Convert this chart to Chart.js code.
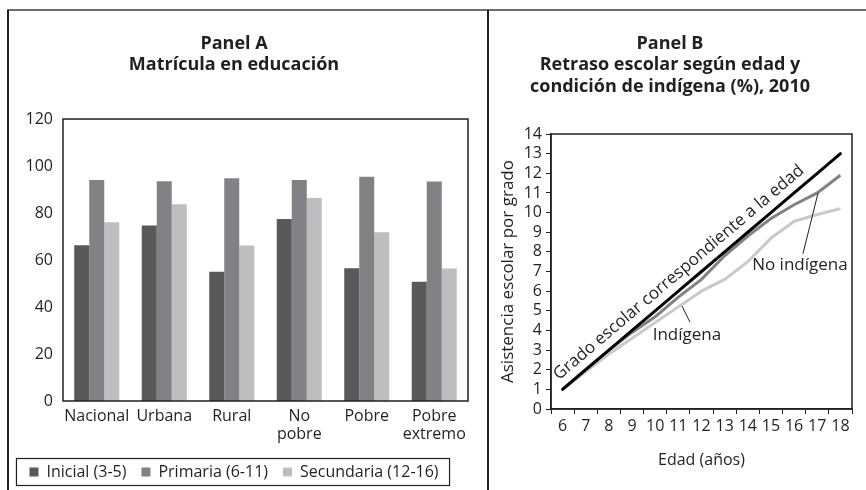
<!DOCTYPE html>
<html>
<head>
<meta charset="utf-8">
<script src="https://cdn.jsdelivr.net/npm/chart.js@4"></script>
<style>
  html, body { margin: 0; padding: 0; background: #fff; }
  #wrap { position: relative; width: 866px; height: 490px; overflow: hidden; }
  canvas { position: absolute; top: 0; }
  .line { position: absolute; }
</style>
</head>
<body>
<div id="wrap">
  <canvas id="panelA" width="488" height="490" style="left:0px"></canvas>
  <canvas id="panelB" width="378" height="490" style="left:488px"></canvas>
  <div class="line" style="left:7px;top:9px;width:859px;height:2px;background:#6d6e71"></div>
  <div class="line" style="left:7px;top:10px;width:2px;height:480px;background:#231f20"></div>
  <div class="line" style="left:487px;top:10px;width:2px;height:480px;background:#231f20"></div>
</div>
<script>
// Panel A: matricula
var categorias = ["Nacional", "Urbana", "Rural", ["No", "pobre"], "Pobre", ["Pobre", "extremo"]];
var inicial = [66.3, 74.7, 55.0, 77.4, 56.5, 50.7];
var primaria = [94.1, 93.5, 94.8, 94.1, 95.4, 93.4];
var secundaria = [76.1, 83.7, 66.2, 86.4, 71.8, 56.4];

// Panel B: retraso escolar
var edades = ["6", "7", "8", "9", "10", "11", "12", "13", "14", "15", "16", "17", "18"];
var gradoEdad = [1, 2, 3, 4, 5, 6, 7, 8, 9, 10, 11, 12, 13];
var noIndigena = [1.0, 2.0, 3.0, 3.9, 4.7, 5.7, 6.6, 7.8, 8.8, 9.7, 10.4, 11.0, 11.9];
var indigena = [1.0, 1.9, 2.8, 3.6, 4.4, 5.2, 6.0, 6.6, 7.5, 8.7, 9.55, 9.9, 10.2];

// callouts (age, grade): label centre, pointer start, pointer end
var llamadas = [
  { texto: "No indígena", edad: 16.25, valor: 7.3, desde: [16.38, 7.9], hasta: [17.03, 10.98] },
  { texto: "Indígena", edad: 11.37, valor: 3.78, desde: [11.5, 4.43], hasta: [11.16, 5.24] }
];
var textoDiagonal = "Grado escolar correspondiente a la edad";

var FONT = "'Open Sans', 'Noto Sans', sans-serif";
var INK = "#231f20";
Chart.defaults.font.family = FONT;
Chart.defaults.color = INK;
Chart.defaults.animation = false;

var boxPlugin = {
  id: "plotBox",
  afterDatasetsDraw: function(chart) {
    var a = chart.chartArea, ctx = chart.ctx;
    ctx.save();
    ctx.strokeStyle = INK;
    ctx.lineWidth = 1.5;
    ctx.strokeRect(a.left, a.top, a.right - a.left, a.bottom - a.top);
    ctx.restore();
  }
};

var legendBox = {
  id: "legendBox",
  afterDraw: function(chart) {
    var hb = chart.legend.legendHitBoxes;
    if (!hb || !hb.length) return;
    var l = hb[0].left - 13;
    var r = hb[hb.length - 1].left + hb[hb.length - 1].width + 11;
    var t = hb[0].top + hb[0].height / 2 - 13.5;
    var ctx = chart.ctx;
    ctx.save();
    ctx.strokeStyle = INK;
    ctx.lineWidth = 1.2;
    ctx.strokeRect(l, t, r - l, 27);
    ctx.restore();
  }
};

var chartA = new Chart(document.getElementById("panelA"), {
  type: "bar",
  data: {
    labels: categorias,
    datasets: [
      { label: "Inicial (3-5)", data: inicial, backgroundColor: "#58595b" },
      { label: "Primaria (6-11)", data: primaria, backgroundColor: "#808285" },
      { label: "Secundaria (12-16)", data: secundaria, backgroundColor: "#bcbec0" }
    ]
  },
  options: {
    responsive: false,
    layout: { padding: { left: 0, right: 20, top: 0, bottom: 0 } },
    datasets: { bar: { barPercentage: 1, categoryPercentage: 0.667 } },
    plugins: {
      title: {
        display: true,
        text: ["Panel A", "Matrícula en educación"],
        font: { size: 18, weight: "bold", lineHeight: 1.195 },
        color: INK,
        padding: { top: 33, bottom: 43 }
      },
      legend: {
        position: "bottom",
        maxHeight: 53,
        labels: { boxWidth: 9, boxHeight: 9, padding: 15, font: { size: 16 }, color: INK }
      },
      tooltip: { enabled: false }
    },
    scales: {
      x: {
        grid: { display: false, drawTicks: false },
        border: { display: false },
        ticks: { padding: 6, font: { size: 16, lineHeight: 1.125 }, color: INK, maxRotation: 0, autoSkip: false }
      },
      y: {
        min: 0, max: 120,
        grid: { display: false, drawTicks: false },
        border: { display: false },
        ticks: { stepSize: 20, padding: 10, font: { size: 16 }, color: INK },
        afterFit: function(s) { s.width = 63; }
      }
    }
  },
  plugins: [boxPlugin, legendBox]
});

var calloutPlugin = {
  id: "callouts",
  afterDatasetsDraw: function(chart) {
    var xs = chart.scales.x, ys = chart.scales.y, ctx = chart.ctx;
    var x0 = xs.getPixelForValue(0), y0 = ys.getPixelForValue(gradoEdad[0]);
    var n = gradoEdad.length - 1;
    var x1 = xs.getPixelForValue(n), y1 = ys.getPixelForValue(gradoEdad[n]);
    var ang = Math.atan2(y1 - y0, x1 - x0);
    ctx.save();
    ctx.fillStyle = INK;
    ctx.font = "17px " + FONT;
    ctx.translate(x0, y0);
    ctx.rotate(ang);
    ctx.textAlign = "left";
    ctx.textBaseline = "alphabetic";
    ctx.fillText(textoDiagonal, 3, -9);
    ctx.restore();

    var base = Number(edades[0]);
    llamadas.forEach(function(c) {
      ctx.save();
      ctx.strokeStyle = INK;
      ctx.lineWidth = 1;
      ctx.beginPath();
      ctx.moveTo(xs.getPixelForValue(c.desde[0] - base), ys.getPixelForValue(c.desde[1]));
      ctx.lineTo(xs.getPixelForValue(c.hasta[0] - base), ys.getPixelForValue(c.hasta[1]));
      ctx.stroke();
      ctx.fillStyle = INK;
      ctx.font = "17px " + FONT;
      ctx.textAlign = "center";
      ctx.textBaseline = "middle";
      ctx.fillText(c.texto, xs.getPixelForValue(c.edad - base), ys.getPixelForValue(c.valor));
      ctx.restore();
    });
  }
};

var chartB = new Chart(document.getElementById("panelB"), {
  type: "line",
  data: {
    labels: edades,
    datasets: [
      { label: "Grado escolar correspondiente a la edad", data: gradoEdad, borderColor: "#000000", borderWidth: 3, pointRadius: 0, borderCapStyle: "round" },
      { label: "No indígena", data: noIndigena, borderColor: "#808285", borderWidth: 3, pointRadius: 0 },
      { label: "Indígena", data: indigena, borderColor: "#c8c9cb", borderWidth: 3, pointRadius: 0 }
    ]
  },
  options: {
    responsive: false,
    layout: { padding: { left: 0, right: 14, top: 0, bottom: 17 } },
    plugins: {
      title: {
        display: true,
        text: ["Panel B", "Retraso escolar según edad y", "condición de indígena (%), 2010"],
        font: { size: 18, weight: "bold", lineHeight: 1.195 },
        color: INK,
        padding: { top: 33, bottom: 36.5 }
      },
      legend: { display: false },
      tooltip: { enabled: false }
    },
    scales: {
      x: {
        offset: true,
        grid: { offset: true, drawOnChartArea: false, tickLength: 5, color: INK },
        border: { color: INK, width: 1.5 },
        ticks: { padding: 3, font: { size: 16, lineHeight: 1.125 }, color: INK, maxRotation: 0, autoSkip: false },
        title: { display: true, text: "Edad (años)", font: { size: 16, lineHeight: 1.125 }, color: INK, padding: { top: 13, bottom: 4 } }
      },
      y: {
        min: 0, max: 14,
        grid: { drawOnChartArea: false, tickLength: 5, color: INK },
        border: { color: INK, width: 1.5 },
        ticks: { stepSize: 1, padding: 4, font: { size: 16, lineHeight: 1.125 }, color: INK, autoSkip: false },
        title: { display: true, text: "Asistencia escolar por grado", font: { size: 17, lineHeight: 1.2 }, color: INK, padding: { top: 10, bottom: 0 } },
        afterFit: function(s) { s.width = 63; }
      }
    }
  },
  plugins: [boxPlugin, calloutPlugin]
});
</script>
</body>
</html>
